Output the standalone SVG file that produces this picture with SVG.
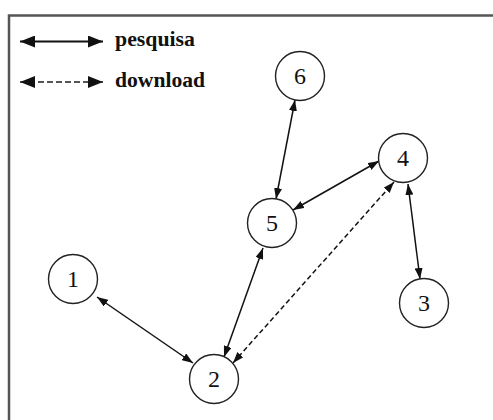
<svg xmlns="http://www.w3.org/2000/svg" width="493" height="420" viewBox="0 0 493 420">
<defs>
<style>
.node circle{fill:#fff;stroke:#222;stroke-width:1.4}
.node text{font-family:"Liberation Serif","Times New Roman",serif;font-size:24px;fill:#111;text-anchor:middle}
.edge{stroke:#111;stroke-width:1.5;fill:none;marker-start:url(#ah);marker-end:url(#ah)}
.dash{stroke-dasharray:5,3}
.leg{stroke:#111;stroke-width:2;fill:none;marker-start:url(#ahL);marker-end:url(#ahL)}
.ldash{stroke:#555;stroke-dasharray:6,3}
.lt{font-family:"Liberation Serif","Times New Roman",serif;font-weight:bold;font-size:21px;fill:#111}
</style>
<marker id="ah" viewBox="0 0 11 8" refX="11" refY="4" markerWidth="11" markerHeight="8" markerUnits="userSpaceOnUse" orient="auto-start-reverse"><path d="M0,0 L11,4 L0,8 z" fill="#111"/></marker>
<marker id="ahL" viewBox="0 0 15 12" refX="15" refY="6" markerWidth="15" markerHeight="12" markerUnits="userSpaceOnUse" orient="auto-start-reverse"><path d="M0,0 L15,6 L0,12 z" fill="#111"/></marker>
</defs>
<rect width="493" height="420" fill="#fff"/>
<rect x="9" y="15.5" width="500" height="420" fill="none" stroke="#555" stroke-width="2.5"/>
<g id="legend">
<line class="leg" x1="20" y1="41.5" x2="103" y2="41.5"/>
<text class="lt" x="115" y="46" textLength="80" lengthAdjust="spacingAndGlyphs">pesquisa</text>
<line class="leg ldash" x1="20" y1="82" x2="103" y2="82"/>
<text class="lt" x="115" y="87" textLength="90" lengthAdjust="spacingAndGlyphs">download</text>
</g>
<g id="connectors">
<line class="edge" x1="97" y1="297" x2="193" y2="363"/>
<line class="edge" x1="224" y1="357" x2="263" y2="248"/>
<line class="edge dash" x1="233" y1="363" x2="394" y2="182"/>
<line class="edge" x1="293" y1="210" x2="379" y2="161"/>
<line class="edge" x1="295" y1="100" x2="276" y2="199"/>
<line class="edge" x1="408" y1="184" x2="420" y2="279"/>
</g>
<g id="n1" class="node"><circle cx="73" cy="279" r="24.5"/><text x="73" y="287">1</text></g>
<g id="n2" class="node"><circle cx="214" cy="379" r="24.5"/><text x="214" y="387">2</text></g>
<g id="n3" class="node"><circle cx="424" cy="303" r="24.5"/><text x="424" y="311">3</text></g>
<g id="n4" class="node"><circle cx="403" cy="158" r="24.5"/><text x="403" y="166">4</text></g>
<g id="n5" class="node"><circle cx="272" cy="223" r="24.5"/><text x="272" y="231">5</text></g>
<g id="n6" class="node"><circle cx="300" cy="76" r="24.5"/><text x="300" y="84">6</text></g>
</svg>
